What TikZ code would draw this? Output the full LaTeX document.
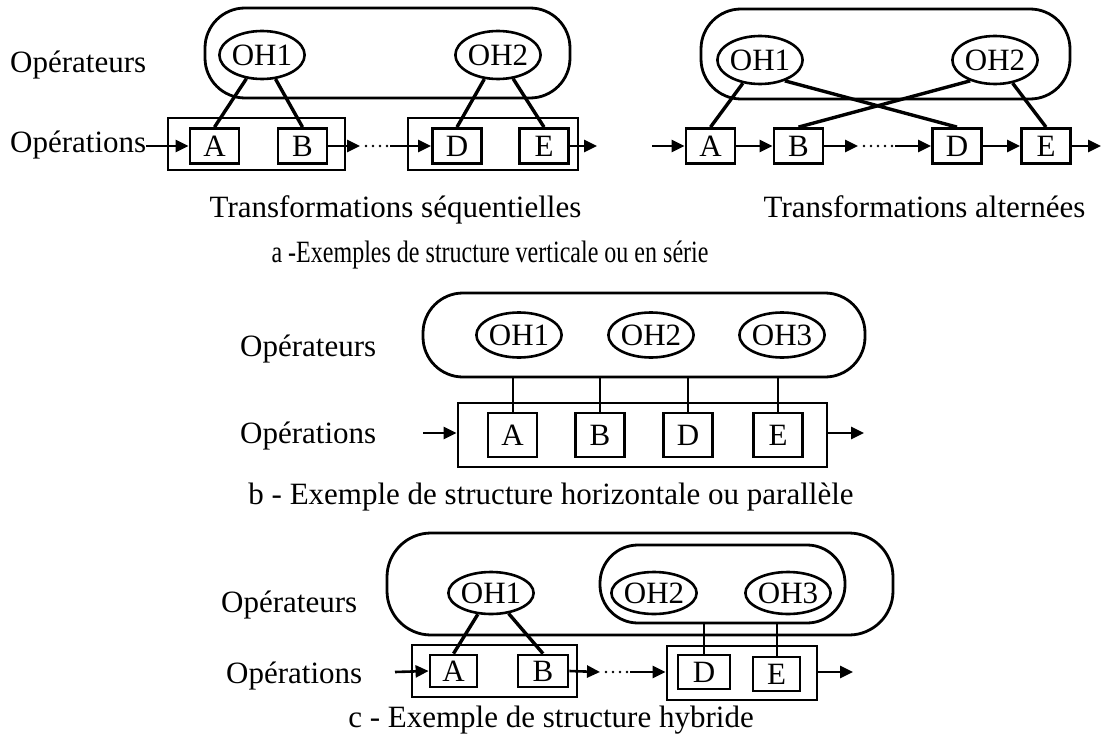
\documentclass[tikz,border=0pt]{standalone}
\usepackage{fontspec}
\setmainfont{Liberation Serif}
\usetikzlibrary{shapes.geometric,arrows.meta}
\begin{document}
\begin{tikzpicture}[x=1pt,y=-1pt,
  every node/.style={font=\fontsize{31}{37}\selectfont},
  lbl/.style={anchor=base west, inner sep=0pt},
  captxt/.style={anchor=base, inner sep=0pt},
  oh/.style={draw, ellipse, line width=2.6pt, minimum width=80pt, minimum height=48pt, inner sep=0pt},
  opbox/.style={draw, rectangle, line width=2.8pt, minimum width=49pt, minimum height=35pt, inner sep=0pt},
  grpbox/.style={draw, rectangle, line width=2.8pt, inner sep=0pt},
  pool/.style={draw, rectangle, rounded corners=40pt, line width=2.8pt, inner sep=0pt},
  link/.style={line width=3.4pt},
  vlink/.style={line width=2pt},
  flow/.style={line width=2.6pt, -{Triangle[length=13pt,width=12pt]}},
  dotline/.style={line width=2.8pt, line cap=round, dash pattern=on 0pt off 7pt}
]
\useasboundingbox (0,0) rectangle (1102,733);

% ---------- a, left : sequential ----------
\node[lbl] (opsA) at (10,73) {Opérateurs};
\node[lbl] (opnA) at (10,152) {Opérations};
\node[pool, minimum width=365pt, minimum height=90pt] (poolA) at (387.5,53) {};
\node[oh] (a1) at (262,55) {OH1};
\node[oh] (a2) at (498,55) {OH2};
\node[grpbox, minimum width=177pt, minimum height=52pt] (gA1) at (256.5,144) {};
\node[grpbox, minimum width=170pt, minimum height=52pt] (gA2) at (493,144) {};
\node[opbox] (aA) at (214.5,146) {A};
\node[opbox] (aB) at (302.5,146) {B};
\node[opbox] (aD) at (457,146) {D};
\node[opbox] (aE) at (544,146) {E};
\draw[link] (a1) -- (aA.north);
\draw[link] (a1) -- (aB.north);
\draw[link] (a2) -- (aD.north);
\draw[link] (a2) -- (aE.north);
\coordinate (aq1) at (360,146);
\coordinate (aq2) at (366,146);
\coordinate (aq3) at (390,146);
\coordinate (aq4) at (597,146);
\draw[flow] (aA.west -| opnA.east) -- (aA.west);
\draw[flow] (aB.east) -- (aq1);
\draw[dotline] (aq2) -- (aq3);
\draw[flow] (aq3) -- (aD.west);
\draw[flow] (aE.east) -- (aq4);
\node[captxt] (tA) at (395.5,217) {Transformations séquentielles};

% ---------- a, right : alternated ----------
\node[pool, minimum width=369pt, minimum height=90pt] (poolB) at (885.5,54) {};
\node[oh] (b1) at (760,60) {OH1};
\node[oh] (b2) at (995,60) {OH2};
\node[opbox] (bA) at (710.5,146) {A};
\node[opbox] (bB) at (798.5,146) {B};
\node[opbox] (bD) at (957,146) {D};
\node[opbox] (bE) at (1046,146) {E};
\draw[link] (b1) -- (bA.north);
\draw[link] (b1.-40) -- (bD.north);
\draw[link] (b2.-140) -- (bB.north);
\draw[link] (b2) -- (bE.north);
\coordinate (bin) at (652,146);
\coordinate (bq1) at (858,146);
\coordinate (bq2) at (864,146);
\coordinate (bq3) at (895,146);
\coordinate (bout) at (1101,146);
\draw[flow] (bin) -- (bA.west);
\draw[flow] (bA.east) -- (bB.west);
\draw[flow] (bB.east) -- (bq1);
\draw[dotline] (bq2) -- (bq3);
\draw[flow] (bq3) -- (bD.west);
\draw[flow] (bD.east) -- (bE.west);
\draw[flow] (bE.east) -- (bout);
\node[captxt] (tB) at (924.5,217) {Transformations alternées};
\node[captxt] (capA) at (490,262) {\scalebox{0.775}[1]{a -Exemples de structure verticale ou en série}};

% ---------- b : parallel ----------
\node[lbl] (opsB) at (240,356) {Opérateurs};
\node[lbl] (opnB) at (240,443) {Opérations};
\node[pool, minimum width=442pt, minimum height=84pt] (poolC) at (644,335) {};
\node[oh, minimum height=45pt] (c1) at (519,335) {OH1};
\node[oh, minimum height=45pt] (c2) at (651,335) {OH2};
\node[oh, minimum height=45pt] (c3) at (782,335) {OH3};
\node[grpbox, minimum width=369pt, minimum height=64pt] (gC) at (642.5,435) {};
\node[opbox, minimum height=44pt] (cA) at (512.5,435) {A};
\node[opbox, minimum height=44pt] (cB) at (600,435) {B};
\node[opbox, minimum height=44pt] (cD) at (688,435) {D};
\node[opbox, minimum height=44pt] (cE) at (778,435) {E};
\draw[vlink] (cA.north) -- (cA.north |- poolC.south);
\draw[vlink] (cB.north) -- (cB.north |- poolC.south);
\draw[vlink] (cD.north) -- (cD.north |- poolC.south);
\draw[vlink] (cE.north) -- (cE.north |- poolC.south);
\coordinate (cin) at (423,433);
\coordinate (cout) at (864,433);
\draw[flow] (cin) -- (cin -| gC.west);
\draw[flow] (cout -| gC.east) -- (cout);
\node[captxt] (capB) at (551,504) {b - Exemple de structure horizontale ou parallèle};

% ---------- c : hybrid ----------
\node[lbl] (opsC) at (221,612) {Opérateurs};
\node[lbl] (opnC) at (226,683) {Opérations};
\node[pool, rounded corners=44pt, minimum width=506pt, minimum height=102pt] (poolD) at (640,584) {};
\node[pool, rounded corners=38pt, minimum width=245pt, minimum height=78pt] (poolE) at (722.5,584) {};
\node[oh, minimum height=42pt] (d1) at (491,593) {OH1};
\node[oh, minimum height=42pt] (d2) at (654,593) {OH2};
\node[oh, minimum height=42pt] (d3) at (788,593) {OH3};
\node[grpbox, minimum width=165pt, minimum height=52pt] (gD1) at (494.5,671) {};
\node[grpbox, minimum width=150pt, minimum height=54pt] (gD2) at (742,673) {};
\node[opbox, minimum width=47pt, minimum height=32pt] (dA) at (453.5,671) {A};
\node[opbox, minimum width=50pt, minimum height=32pt] (dB) at (543,671) {B};
\node[opbox, minimum width=52pt, minimum height=34pt] (dD) at (704,672) {D};
\node[opbox, minimum width=47pt, minimum height=34pt] (dE) at (776.5,674) {E};
\draw[link] (d1) -- (dA.north);
\draw[link] (d1) -- (dB.north);
\draw[vlink] (dD.north) -- (dD.north |- poolE.south);
\draw[vlink] (dE.north) -- (dE.north |- poolE.south);
\coordinate (din) at (395,672);
\coordinate (dq1) at (600,672);
\coordinate (dq2) at (606,672);
\coordinate (dq3) at (630,672);
\coordinate (dout) at (853,672);
\draw[flow] (din) -- (dA.west);
\draw[flow] (dB.east) -- (dq1);
\draw[dotline] (dq2) -- (dq3);
\draw[flow] (dq3) -- (dq3 -| gD2.west);
\draw[flow] (dout -| gD2.east) -- (dout);
\node[captxt] (capC) at (551,727) {c - Exemple de structure hybride};
\end{tikzpicture}
\end{document}
